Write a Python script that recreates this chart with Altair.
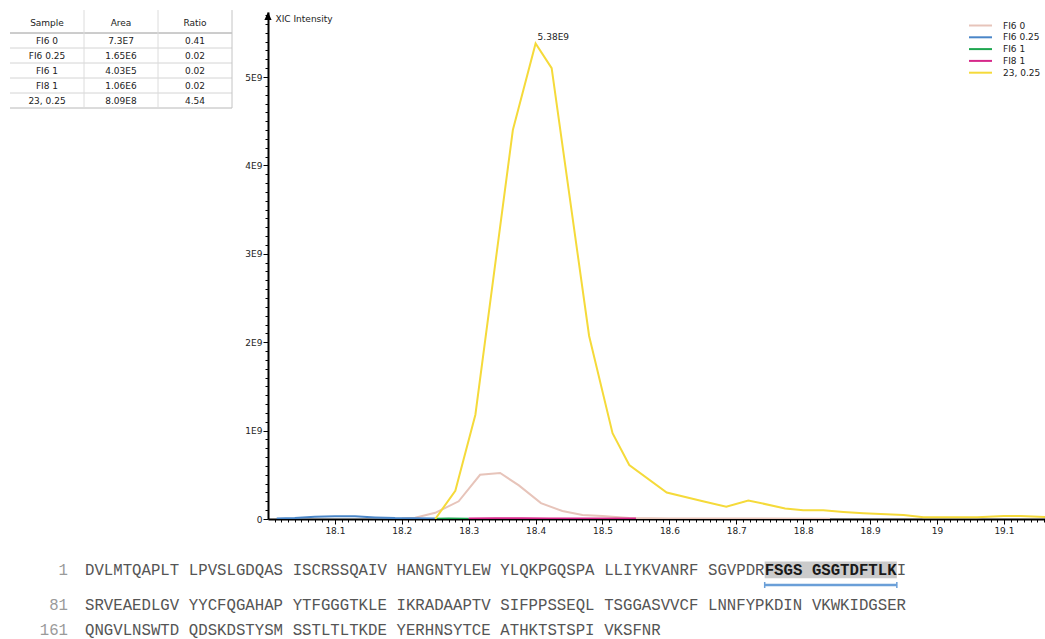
import altair as alt
import pandas as pd

# ---------------- data ----------------
series_names = ["FI6 0", "FI6 0.25", "FI6 1", "FI8 1", "23, 0.25"]
series_colors = ["#e7c4ba", "#4a86c8", "#1ea650", "#d6288a", "#f5da3a"]

t_fi6_0 = [18.20, 18.22, 18.25, 18.285, 18.317, 18.347, 18.375, 18.408, 18.44, 18.47, 18.50, 18.54, 18.60, 18.70, 18.84]
v_fi6_0 = [0.005e9, 0.015e9, 0.07e9, 0.20e9, 0.50e9, 0.52e9, 0.38e9, 0.18e9, 0.09e9, 0.045e9, 0.035e9, 0.012e9, 0.005e9, 0.005e9, 0.003e9]

t_fi6_025 = [18.013, 18.04, 18.07, 18.10, 18.13, 18.16, 18.19, 18.22, 18.25]
v_fi6_025 = [0.005e9, 0.012e9, 0.025e9, 0.03e9, 0.03e9, 0.018e9, 0.01e9, 0.008e9, 0.005e9]

t_fi6_1 = [18.25, 18.27, 18.30]
v_fi6_1 = [0.004e9, 0.006e9, 0.004e9]

t_fi8_1 = [18.30, 18.34, 18.38, 18.42, 18.46, 18.50, 18.55]
v_fi8_1 = [0.006e9, 0.008e9, 0.008e9, 0.007e9, 0.006e9, 0.006e9, 0.005e9]

t_23 = [18.25, 18.28, 18.31, 18.366, 18.40, 18.424, 18.48, 18.515, 18.54, 18.596, 18.65, 18.685,
        18.718, 18.773, 18.80, 18.83, 18.86, 18.89, 18.95, 18.98, 19.06, 19.10, 19.125, 19.17]
v_23 = [0.0, 0.32e9, 1.18e9, 4.4e9, 5.38e9, 5.1e9, 2.07e9, 0.97e9, 0.61e9, 0.30e9, 0.20e9, 0.14e9,
        0.21e9, 0.12e9, 0.10e9, 0.10e9, 0.08e9, 0.065e9, 0.045e9, 0.02e9, 0.02e9, 0.035e9, 0.035e9, 0.02e9]

x_ticks = [18.1, 18.2, 18.3, 18.4, 18.5, 18.6, 18.7, 18.8, 18.9, 19.0, 19.1]
y_ticks = [0, 1e9, 2e9, 3e9, 4e9, 5e9]

table_columns = ["Sample", "Area", "Ratio"]
table_samples = ["FI6 0", "FI6 0.25", "FI6 1", "FI8 1", "23, 0.25"]
table_area = ["7.3E7", "1.65E6", "4.03E5", "1.06E6", "8.09E8"]
table_ratio = ["0.41", "0.02", "0.02", "0.02", "4.54"]

seq_starts = [1, 81, 161]
seq_rows = [
    "DVLMTQAPLT LPVSLGDQAS ISCRSSQAIV HANGNTYLEW YLQKPGQSPA LLIYKVANRF SGVPDRFSGS GSGTDFTLKI",
    "SRVEAEDLGV YYCFQGAHAP YTFGGGTKLE IKRADAAPTV SIFPPSSEQL TSGGASVVCF LNNFYPKDIN VKWKIDGSER",
    "QNGVLNSWTD QDSKDSTYSM SSTLTLTKDE YERHNSYTCE ATHKTSTSPI VKSFNR",
]
peptide = "FSGSGSGTDFTLK"

# ---------------- layout constants ----------------
PL, PT, W, H = 268, 12, 777, 507
PX_PER_01 = 66.9          # pixels per 0.1 min
PX_PER_1E9 = 88.4         # pixels per 1E9
X_DOM = [18.0, 18.0 + W / (PX_PER_01 * 10)]
Y_DOM = [0, H / PX_PER_1E9 * 1e9]
LABEL_FONT = "DejaVu Sans"

xs = alt.Scale(domain=X_DOM, nice=False, zero=False)
ys = alt.Scale(domain=Y_DOM, nice=False, zero=True)

frames = []
for name, ts, vs in zip(series_names,
                        [t_fi6_0, t_fi6_025, t_fi6_1, t_fi8_1, t_23],
                        [v_fi6_0, v_fi6_025, v_fi6_1, v_fi8_1, v_23]):
    frames.append(pd.DataFrame({"series": name, "t": ts, "v": vs}))
df = pd.concat(frames, ignore_index=True)

# legend symbol: a horizontal stroke drawn as a custom path (keeps rows compact)
LEG_SIZE = 33
lines = alt.Chart(df).mark_line(strokeWidth=2, clip=True).encode(
    x=alt.X("t:Q", scale=xs, axis=alt.Axis(
        values=x_ticks, labelExpr="format(datum.value, '~g')", title=None, grid=False,
        domainColor="black", domainWidth=2, tickColor="black", tickSize=5, tickWidth=1,
        labelFont=LABEL_FONT, labelFontSize=9, labelColor="#222", labelPadding=2, orient="bottom")),
    y=alt.Y("v:Q", scale=ys, axis=alt.Axis(
        values=y_ticks, labelExpr="datum.value == 0 ? '0' : format(datum.value / 1e9, '~g') + 'E9'",
        title="XIC Intensity", titleAngle=0, titleX=7, titleY=6, titleAlign="left", titleBaseline="middle",
        titleFont=LABEL_FONT, titleFontSize=9, titleFontWeight="normal", titleColor="#222",
        grid=False, domainColor="black", domainWidth=2, tickColor="black", tickSize=5, tickWidth=1,
        labelFont=LABEL_FONT, labelFontSize=9, labelColor="#222", labelPadding=1, orient="left")),
    color=alt.Color("series:N", scale=alt.Scale(domain=series_names, range=series_colors),
                    legend=alt.Legend(orient="none", legendX=708, legendY=9, title=None,
                                      symbolType="M-4,0L4,0", symbolSize=LEG_SIZE, symbolStrokeWidth=2,
                                      labelFont=LABEL_FONT, labelFontSize=9, labelColor="#222",
                                      labelOffset=18, rowPadding=1.8, padding=0)),
    order=alt.Order("t:Q"),
)

peak_df = df[df["series"] == "23, 0.25"].nlargest(1, "v").copy()
peak_df["label"] = peak_df["v"].map(lambda v: f"{v / 1e9:.2f}E9")
peak = alt.Chart(peak_df).mark_text(align="left", baseline="middle", dx=2, dy=-6,
                                    font=LABEL_FONT, fontSize=9, color="#222").encode(
    x=alt.X("t:Q", scale=xs, axis=None), y=alt.Y("v:Q", scale=ys, axis=None), text="label:N")

minor_x = [round(18.0 + 0.01 * i, 2) for i in range(1, 117) if i % 10 != 0]
minor_y = [i * 1e8 for i in range(1, 58) if i % 10 != 0]
minor = alt.Chart(pd.DataFrame({"t": [18.5], "v": [0.0]})).mark_point(opacity=0).encode(
    x=alt.X("t:Q", scale=xs, axis=alt.Axis(values=minor_x, labels=False, domain=False, grid=False,
                                           tickSize=3, tickColor="black", title=None, orient="bottom")),
    y=alt.Y("v:Q", scale=ys, axis=alt.Axis(values=minor_y, labels=False, domain=False, grid=False,
                                           tickSize=3, tickColor="black", title=None, orient="left")))

arrow = alt.Chart(pd.DataFrame({"a": [0]})).mark_point(
    shape="M0,-1L0.9,1L-0.9,1Z", size=64, filled=True, color="black", opacity=1, strokeWidth=0
).encode(x=alt.value(0), y=alt.value(4))

# ---------------- table ----------------
TAB_X = alt.Scale(domain=[0, 3], range=[10 - PL, 232 - PL], nice=False, zero=False)
TAB_Y = alt.Scale(domain=[0, 5], range=[33 - PT, 108 - PT], nice=False, zero=False)
HDR_Y = -0.67
TOP_Y = -1.53

cells = []
for ci, col in enumerate([table_samples, table_area, table_ratio]):
    for ri, txt in enumerate(col):
        cells.append({"xc": ci + 0.5, "yc": ri + 0.5, "text": txt})
    cells.append({"xc": ci + 0.5, "yc": HDR_Y, "text": table_columns[ci]})
cells_df = pd.DataFrame(cells)
tab_text = alt.Chart(cells_df).mark_text(font=LABEL_FONT, fontSize=9, color="#222", baseline="middle").encode(
    x=alt.X("xc:Q", scale=TAB_X, axis=None), y=alt.Y("yc:Q", scale=TAB_Y, axis=None), text="text:N")

hlines = pd.DataFrame({"y": [0, 1, 2, 3, 4, 5], "x0": 0, "x1": 3,
                       "c": ["#9a9a9a", "#d4d4d4", "#d4d4d4", "#d4d4d4", "#d4d4d4", "#b8b8b8"]})
tab_h = alt.Chart(hlines).mark_rule(strokeWidth=1).encode(
    x=alt.X("x0:Q", scale=TAB_X, axis=None), x2="x1:Q",
    y=alt.Y("y:Q", scale=TAB_Y, axis=None), color=alt.Color("c:N", scale=None))
vlines = pd.DataFrame({"x": [1, 2, 3], "y0": TOP_Y, "y1": 5, "c": ["#dcdcdc", "#dcdcdc", "#c4c4c4"]})
tab_v = alt.Chart(vlines).mark_rule(strokeWidth=1).encode(
    x=alt.X("x:Q", scale=TAB_X, axis=None),
    y=alt.Y("y0:Q", scale=TAB_Y, axis=None), y2="y1:Q", color=alt.Color("c:N", scale=None))

# ---------------- sequence ----------------
CHAR_W = 9.44
SEQ_X = alt.Scale(domain=[0, 87], range=[85 - PL, 85 + 87 * CHAR_W - PL], nice=False, zero=False)
SEQ_Y = alt.Scale(domain=[0, 2.4], range=[570 - PT, 630 - PT], nice=False, zero=False)
ROW_Y = [0.0, 1.4, 2.4]

segs = []
hl = None
for row_i, row in enumerate(seq_rows):
    residues = row.replace(" ", "")
    ps = residues.find(peptide)
    pe = ps + len(peptide) if ps >= 0 else -1
    if ps >= 0:
        hl = (row_i, ps + ps // 10, (pe - 1) + (pe - 1) // 10 + 1)
    for gi, g in enumerate(row.split(" ")):
        base, r0 = gi * 11, gi * 10
        run_start, run_bold = 0, None
        for k in range(len(g) + 1):
            b = (ps <= r0 + k < pe) if k < len(g) else None
            if k == len(g) or (run_bold is not None and b != run_bold):
                segs.append({"x": base + run_start, "y": ROW_Y[row_i], "text": g[run_start:k],
                             "bold": bool(run_bold)})
                run_start = k
            run_bold = b
seg_df = pd.DataFrame(segs)

SEQ_FONT = "Liberation Mono"
SEQ_SIZE = 15.7
seq_norm = alt.Chart(seg_df[~seg_df["bold"]]).mark_text(
    align="left", baseline="middle", font=SEQ_FONT, fontSize=SEQ_SIZE, color="#555").encode(
    x=alt.X("x:Q", scale=SEQ_X, axis=None), y=alt.Y("y:Q", scale=SEQ_Y, axis=None), text="text:N")
seq_bold = alt.Chart(seg_df[seg_df["bold"]]).mark_text(
    align="left", baseline="middle", font=SEQ_FONT, fontSize=SEQ_SIZE, fontWeight="bold", color="#1a1a1a").encode(
    x=alt.X("x:Q", scale=SEQ_X, axis=None), y=alt.Y("y:Q", scale=SEQ_Y, axis=None), text="text:N")

num_df = pd.DataFrame({"x": -1.8, "y": ROW_Y, "text": [str(s) for s in seq_starts]})
seq_num = alt.Chart(num_df).mark_text(
    align="right", baseline="middle", font=SEQ_FONT, fontSize=SEQ_SIZE, color="#9a9a9a").encode(
    x=alt.X("x:Q", scale=SEQ_X, axis=None), y=alt.Y("y:Q", scale=SEQ_Y, axis=None), text="text:N")

hrow, c0, c1 = hl
hy = ROW_Y[hrow]
hl_df = pd.DataFrame({"x0": [c0], "x1": [c1], "y0": [hy - 0.34], "y1": [hy + 0.33]})
hl_rect = alt.Chart(hl_df).mark_rect(color="#cbcbcb").encode(
    x=alt.X("x0:Q", scale=SEQ_X, axis=None), x2="x1:Q",
    y=alt.Y("y0:Q", scale=SEQ_Y, axis=None), y2="y1:Q")
ul_df = pd.DataFrame({"x0": [c0], "x1": [c1], "y": [hy + 0.6]})
underline = alt.Chart(ul_df).mark_rule(color="#6a9fd8", strokeWidth=2.5).encode(
    x=alt.X("x0:Q", scale=SEQ_X, axis=None), x2="x1:Q", y=alt.Y("y:Q", scale=SEQ_Y, axis=None))
caps_df = pd.DataFrame({"x": [c0, c1], "y0": hy + 0.48, "y1": hy + 0.72})
caps = alt.Chart(caps_df).mark_rule(color="#6a9fd8", strokeWidth=1.5).encode(
    x=alt.X("x:Q", scale=SEQ_X, axis=None), y=alt.Y("y0:Q", scale=SEQ_Y, axis=None), y2="y1:Q")

chart = alt.layer(
    minor, lines, peak, arrow,
    tab_h, tab_v, tab_text,
    hl_rect, underline, caps, seq_norm, seq_bold, seq_num,
).resolve_scale(x="independent", y="independent").properties(
    width=W, height=H,
    autosize=alt.AutoSizeParams(type="none"),
    padding={"left": PL, "top": PT, "right": 1045 - PL - W, "bottom": 639 - PT - H},
    background="white",
).configure_view(stroke=None)

chart.save("out.html", embed_options={"renderer": "svg", "actions": False})
